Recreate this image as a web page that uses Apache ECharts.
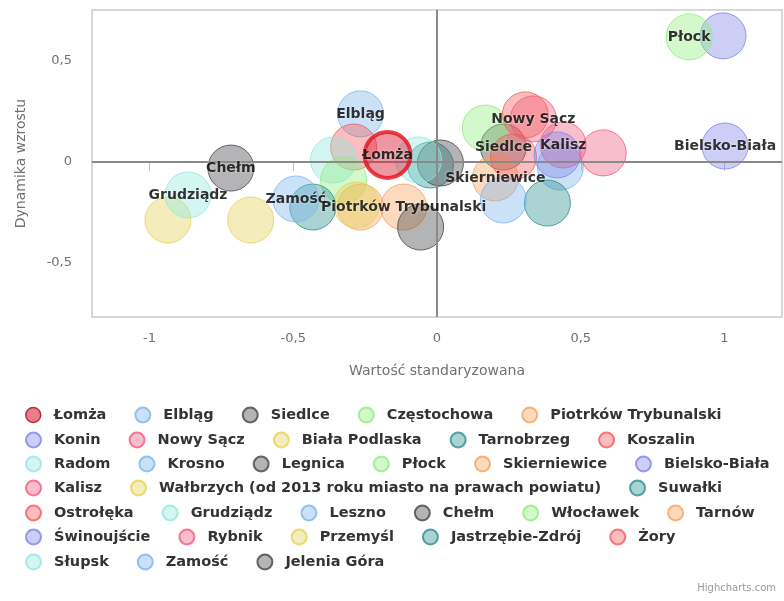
<!DOCTYPE html>
<html><head><meta charset="utf-8">
<script src="https://cdn.jsdelivr.net/npm/echarts@6/dist/echarts.min.js"></script>
<style>html,body{margin:0;padding:0;background:#fff}#c{width:784px;height:601px}</style>
</head><body><div id="c"></div>
<script>
// ---- data ----
const cities = ['Łomża','Elbląg','Siedlce','Częstochowa','Piotrków Trybunalski','Konin','Nowy Sącz','Biała Podlaska','Tarnobrzeg','Koszalin','Radom','Krosno','Legnica','Płock','Skierniewice','Bielsko-Biała','Kalisz','Wałbrzych (od 2013 roku miasto na prawach powiatu)','Suwałki','Ostrołęka','Grudziądz','Leszno','Chełm','Włocławek','Tarnów','Świnoujście','Rybnik','Przemyśl','Jastrzębie-Zdrój','Żory','Słupsk','Zamość','Jelenia Góra'];
const standardizedValue = [-0.172,-0.266,0.231,0.168,-0.116,0.995,0.335,-0.936,-0.023,-0.29,-0.36,0.429,0.012,0.877,0.203,1.002,0.439,-0.648,0.384,0.266,-0.866,0.231,-0.717,-0.325,-0.266,0.418,0.578,-0.28,-0.432,0.307,-0.064,-0.491,-0.057];
const growthDynamics = [0.035,0.238,0.074,0.168,-0.223,0.624,0.213,-0.287,-0.015,0.074,0.01,-0.025,-0.005,0.619,-0.079,0.079,0.084,-0.287,-0.203,0.025,-0.163,-0.188,-0.03,-0.089,-0.223,0.035,0.045,-0.213,-0.223,0.233,0.01,-0.183,-0.322];
const labeledCities = ['Łomża','Elbląg','Chełm','Grudziądz','Zamość','Piotrków Trybunalski','Siedlce','Nowy Sącz','Kalisz','Skierniewice','Płock','Bielsko-Biała'];
const xTicks = [-1,-0.5,0,0.5,1];
const yTicks = [-0.5,0,0.5];
const legendRows = [
 ['Łomża','Elbląg','Siedlce','Częstochowa','Piotrków Trybunalski'],
 ['Konin','Nowy Sącz','Biała Podlaska','Tarnobrzeg','Koszalin'],
 ['Radom','Krosno','Legnica','Płock','Skierniewice','Bielsko-Biała'],
 ['Kalisz','Wałbrzych (od 2013 roku miasto na prawach powiatu)','Suwałki'],
 ['Ostrołęka','Grudziądz','Leszno','Chełm','Włocławek','Tarnów'],
 ['Świnoujście','Rybnik','Przemyśl','Jastrzębie-Zdrój','Żory'],
 ['Słupsk','Zamość','Jelenia Góra']
];
// ---- style ----
const palette = ['#7cb5ec','#434348','#90ed7d','#f7a35c','#8085e9','#f15c80','#e4d354','#2b908f','#f45b5b','#91e8e1'];
function rgba(hex,a){const n=parseInt(hex.slice(1),16);return `rgba(${n>>16},${(n>>8)&255},${n&255},${a})`;}
const font = 'DejaVu Sans';

const series = cities.map((name,i)=>{
  const isL = i===0;
  const col = isL ? '#e3101e' : palette[(i-1)%palette.length];
  return {
    type:'scatter', name, symbol:'circle', symbolSize:46, z: isL?5:2,
    data:[[standardizedValue[i], growthDynamics[i]]],
    itemStyle: isL ? {color:'rgba(215,40,60,0.6)', borderColor:'#e3101e', borderWidth:4}
                   : {color:rgba(col,0.5), borderColor:col, borderWidth:1},
    emphasis:{disabled:true}, silent:true
  };
});
// zero lines
series.push({type:'scatter', name:'_zero', data:[], z:1, silent:true,
  markLine:{silent:true, symbol:'none', label:{show:false},
    lineStyle:{color:'#8a8a8a', width:2, type:'solid'},
    data:[{xAxis:0},{yAxis:0}]}});
// labels overlay
series.push({type:'scatter', name:'_labels', z:10, silent:true, symbolSize:1,
  itemStyle:{color:'transparent'},
  data: labeledCities.map(n=>{const i=cities.indexOf(n);return {name:n, value:[standardizedValue[i],growthDynamics[i]]};}),
  label:{show:true, position:'inside', formatter:p=>p.name, color:'#000', fontFamily:font, fontWeight:'bold', fontSize:14,
    textShadowColor:'rgba(255,255,255,0.7)', textShadowBlur:3}
});

const rowCenters=[415,440,464,488,513,537,562];
const legends = legendRows.map((row,r)=>({
  data: row.map(n=> n==='Łomża' ? {name:n, itemStyle:{color:'rgba(215,40,60,0.75)', borderColor:'#a0101a', borderWidth:1.5}} : {name:n}),
  left:25, top:rowCenters[r]-9, width:770, padding:0, itemGap:28, itemWidth:15, itemHeight:15, icon:'circle',
  selectedMode:false,
  textStyle:{fontFamily:font, fontWeight:'bold', fontSize:14.5, color:'#333', lineHeight:18, padding:[0,0,0,8]}
}));

const fmt = v => String(v).replace('.',',');
const option = {
  animation:false, backgroundColor:'#fff',
  grid:{left:92, right:2, top:10, bottom:284, show:true, borderColor:'#cccccc', borderWidth:1.5, containLabel:false},
  xAxis:{type:'value', min:-1.2, max:1.2,
    name:'Wartość standaryzowana', nameLocation:'middle', nameGap:47,
    nameTextStyle:{fontFamily:font, fontSize:14, color:'#707070'},
    splitLine:{show:false}, axisLine:{show:false},
    axisTick:{show:true, length:9, lineStyle:{color:'#c0c0c0'}, customValues:xTicks},
    axisLabel:{customValues:xTicks, formatter:fmt, fontFamily:font, fontSize:13, color:'#707070', margin:15}},
  yAxis:{type:'value', min:-0.767, max:0.752,
    name:'Dynamika wzrostu', nameLocation:'middle', nameGap:64, nameRotate:90,
    nameTextStyle:{fontFamily:font, fontSize:14, color:'#707070'},
    splitLine:{show:false}, axisLine:{show:false}, axisTick:{show:false},
    axisLabel:{customValues:yTicks, formatter:fmt, fontFamily:font, fontSize:13, color:'#707070', margin:20}},
  legend: legends,
  series,
  graphic:[{type:'text', right:8, bottom:8, style:{text:'Highcharts.com', fontFamily:font, fontSize:10, fill:'#999'}}]
};
echarts.init(document.getElementById('c')).setOption(option);
</script>
</body></html>
